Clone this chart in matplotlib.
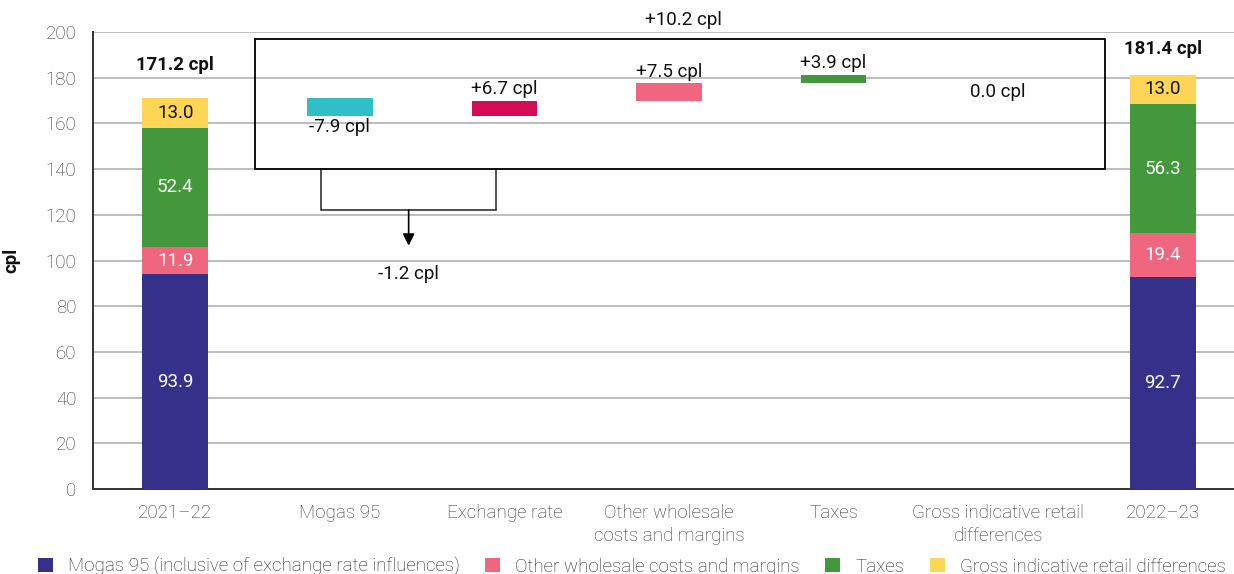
import matplotlib
matplotlib.use("Agg")
import matplotlib.pyplot as plt
from matplotlib.patches import Patch
import numpy as np

plt.rcParams['font.family'] = ['Roboto', 'DejaVu Sans']

# Categories along the x axis
categories = ["2021\u201322", "Mogas 95", "Exchange rate",
              "Other wholesale\ncosts and margins", "Taxes",
              "Gross indicative retail\ndifferences", "2022\u201323"]

# Stacked components of the two totals (cpl)
components = ["Mogas 95 (inclusive of exchange rate influences)",
              "Other wholesale costs and margins", "Taxes",
              "Gross indicative retail differences"]
start_values = [93.9, 11.9, 52.4, 13.0]
end_values = [92.7, 19.4, 56.3, 13.0]

# Changes between the two years (cpl)
change_values = [-7.9, 6.7, 7.5, 3.9, 0.0]

# Group totals shown by the bracket annotations
group_fuel_change = -1.2
group_all_change = 10.2

comp_colors = ["#35308A", "#F1667F", "#43983C", "#FFD555"]
change_colors = ["#30BFC6", "#D40B55", "#F1667F", "#43983C", "#FFD555"]
text_dark = "#111111"
tick_color = "#333333"
fs = 13.5

fig = plt.figure(figsize=(12.34, 5.74), dpi=100)
ax = fig.add_axes([93 / 1234, 85 / 574, 1152 / 1234, 457 / 574])

x = np.arange(len(categories))
width = 0.4

# Stacked totals
for xi, vals in ((x[0], start_values), (x[-1], end_values)):
    bottom = 0.0
    for v, c in zip(vals, comp_colors):
        ax.bar(xi, v, width, bottom=bottom, color=c, zorder=3)
        tc = text_dark if c == "#FFD555" else "white"
        ax.text(xi, bottom + v / 2, f"{v:.1f}", ha="center", va="center",
                fontsize=fs, color=tc, zorder=4)
        bottom += v

start_total = sum(start_values)
end_total = sum(end_values)
ax.text(x[0], start_total + 14.4, f"{start_total:.1f} cpl", ha="center",
        va="center", fontsize=fs, fontweight="bold", color=text_dark)
ax.text(x[-1], end_total + 11.2, f"{end_total:.1f} cpl", ha="center",
        va="center", fontsize=fs, fontweight="bold", color=text_dark)

# Waterfall steps
running = start_total
for i, (dv, c) in enumerate(zip(change_values, change_colors)):
    xi = x[i + 1]
    bottom = running + min(dv, 0)
    if dv != 0:
        ax.bar(xi, abs(dv), width, bottom=bottom, color=c, zorder=3)
    label = f"{dv:+.1f} cpl" if dv != 0 else f"{dv:.1f} cpl"
    if dv < 0:
        ty = bottom - 5.0
    elif dv > 0:
        ty = running + dv + 5.0
    else:
        ty = 173.7
    ax.text(xi, ty, label, ha="center", va="center", fontsize=fs,
            color=text_dark, zorder=4)
    running += dv

# Bracket for Mogas 95 + exchange rate
bx0, bx1 = 0.887, 1.949
ax.plot([bx0, bx0, bx1, bx1], [140.0, 122.1, 122.1, 140.0], color="#333333",
        lw=1.2, zorder=5, solid_joinstyle="miter")
bxm = (bx0 + bx1) / 2
ax.annotate("", xy=(bxm, 106.5), xytext=(bxm, 122.1),
            arrowprops=dict(arrowstyle="-|>,head_length=0.7,head_width=0.35",
                            color="black", lw=1.2, shrinkA=0, shrinkB=0),
            zorder=5)
ax.text(bxm, 94.1, f"{group_fuel_change:.1f} cpl", ha="center", va="center",
        fontsize=fs, color=text_dark)

# Box around all changes
ax.plot([0.486, 5.648, 5.648, 0.486, 0.486],
        [196.9, 196.9, 140.0, 140.0, 196.9], color="black", lw=1.3, zorder=5)
ax.text(3.09, 205.3, f"{group_all_change:+.1f} cpl", ha="center",
        va="center", fontsize=fs, color=text_dark, clip_on=False)

# Axes styling
ax.set_xlim(-0.5, 6.5)
ax.set_ylim(0, 200)
ax.set_yticks(np.arange(0, 201, 20))
ax.set_xticks(x)
ax.set_xticklabels(categories, fontsize=fs, color=tick_color,
                   linespacing=1.35, fontweight="light")
ax.tick_params(axis="x", length=0, pad=11)
ax.tick_params(axis="y", length=0, pad=12, labelsize=fs, labelcolor=tick_color)
for lbl in ax.get_yticklabels():
    lbl.set_fontweight("light")
ax.grid(axis="y", color="#b8b8b8", lw=1.3, zorder=0)
ax.set_axisbelow(True)
for s in ("top", "right"):
    ax.spines[s].set_visible(False)
for s in ("left", "bottom"):
    ax.spines[s].set_color("#333333")
    ax.spines[s].set_linewidth(1.4)
ax.set_ylabel("cpl", fontsize=fs, fontweight="bold", color=text_dark)
ax.yaxis.set_label_coords(-0.063, 0.5)

handles = [Patch(facecolor=c, edgecolor="none") for c in comp_colors]
fig.legend(handles, components, loc="center", bbox_to_anchor=(0.512, 0.013),
           ncol=4, frameon=False, handlelength=0.8,
           handleheight=0.8, handletextpad=0.8, columnspacing=1.35,
           labelcolor="#222222", prop={"weight": "light", "size": fs})

fig.savefig("out.png", dpi=100)
